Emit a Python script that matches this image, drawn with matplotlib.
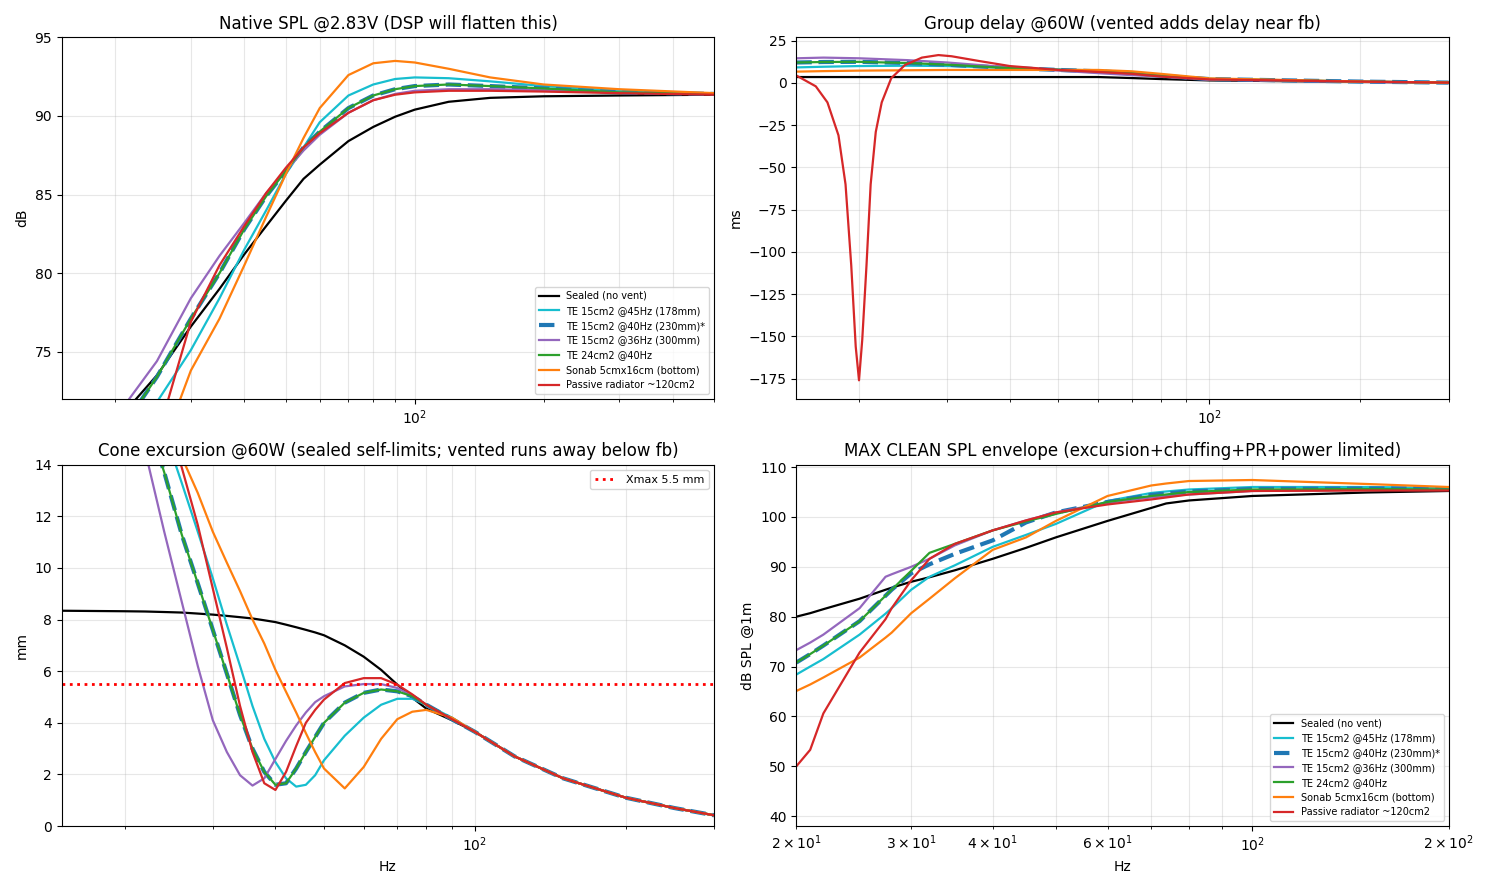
import matplotlib
matplotlib.use('Agg')
import matplotlib.pyplot as plt

# ---------------------------------------------------------------- data
names = ['Sealed (no vent)', 'TE 15cm2 @45Hz (178mm)', 'TE 15cm2 @40Hz (230mm)*',
         'TE 15cm2 @36Hz (300mm)', 'TE 24cm2 @40Hz', 'Sonab 5cmx16cm (bottom)',
         'Passive radiator ~120cm2']
keys = ['sealed', 'te45', 'te40', 'te36', 'te24', 'sonab', 'pr']
colors = {'sealed': 'black', 'te45': 'tab:cyan', 'te40': 'tab:blue', 'te36': 'tab:purple',
          'te24': 'tab:green', 'sonab': 'tab:orange', 'pr': 'tab:red'}

# Native SPL @2.83V
spl_f = [20, 25, 30, 35, 40, 45, 50, 55, 60, 70, 80, 90, 100, 120, 150, 200, 300, 500]
spl = {
    'sealed': [70.5, 73.5, 76.6, 79.0, 81.2, 83.0, 84.6, 86.0, 86.9, 88.4, 89.3, 89.95, 90.4, 90.9, 91.15, 91.25, 91.3, 91.35],
    'te45':   [68.0, 71.8, 75.1, 78.4, 81.5, 84.0, 86.3, 88.0, 89.6, 91.3, 92.0, 92.35, 92.45, 92.4, 92.2, 91.9, 91.6, 91.4],
    'te40':   [69.5, 73.4, 77.1, 80.0, 82.8, 84.9, 86.5, 88.0, 89.0, 90.5, 91.3, 91.7, 91.9, 92.0, 91.9, 91.75, 91.5, 91.4],
    'te36':   [70.8, 74.4, 78.4, 81.1, 83.2, 85.1, 86.5, 87.8, 88.8, 90.2, 91.0, 91.4, 91.6, 91.7, 91.7, 91.65, 91.5, 91.4],
    'te24':   [69.5, 73.4, 77.1, 80.0, 82.8, 84.9, 86.5, 88.0, 89.0, 90.5, 91.3, 91.7, 91.9, 92.0, 91.9, 91.75, 91.5, 91.4],
    'sonab':  [62.0, 68.0, 73.8, 77.1, 80.5, 83.6, 86.3, 88.6, 90.5, 92.6, 93.35, 93.5, 93.4, 93.0, 92.45, 92.0, 91.7, 91.45],
    'pr':     [62.0, 69.5, 76.9, 80.5, 83.0, 85.1, 86.7, 88.0, 88.9, 90.2, 91.0, 91.35, 91.5, 91.6, 91.6, 91.55, 91.45, 91.35],
}

# Group delay @60W
gd_f = [15, 17, 20, 25, 30, 40, 50, 60, 70, 80, 100, 200, 300]
gd = {
    'sealed': [3.5, 3.5, 3.5, 3.5, 3.5, 3.5, 3.5, 3.5, 2.9, 2.3, 1.5, 0.6, 0.4],
    'te45':   [9.2, 9.6, 10.0, 10.2, 10.0, 8.8, 8.1, 7.3, 6.2, 4.8, 2.5, 0.8, 0.2],
    'te40':   [12.1, 12.4, 12.5, 11.8, 10.8, 8.8, 7.7, 6.9, 5.8, 4.2, 2.3, 0.8, 0.2],
    'te36':   [14.6, 15.0, 14.6, 13.5, 12.1, 9.2, 7.3, 5.8, 4.6, 3.8, 1.9, 0.6, 0.0],
    'te24':   [12.1, 12.4, 12.5, 11.8, 10.8, 8.8, 7.7, 6.9, 5.8, 4.2, 2.3, 0.8, 0.2],
    'sonab':  [6.7, 7.0, 7.3, 7.5, 7.7, 7.7, 7.7, 7.7, 6.9, 5.4, 2.7, 0.8, 0.2],
}
gd_pr_f = [15, 16.4, 17.3, 18.2, 18.8, 19.3, 19.7, 20, 20.3, 20.7, 21.1, 21.6, 22.2, 23.2,
           24.7, 26.7, 28.8, 30.6, 34.7, 40, 50, 60, 70, 80, 100, 200, 300]
gd_pr = [4.4, -2, -11.5, -31, -60, -108, -156, -176, -152, -108, -60, -29, -11.5, 2.9,
         10.6, 15, 16.5, 15.8, 13, 10, 7.7, 6.5, 5.4, 3.8, 2.1, 0.8, 0.2]

# Cone excursion @60W
ex_f = [15, 20, 22, 24, 26, 28, 30, 32, 34, 36, 38, 40, 42, 44, 46, 48, 50, 55, 60, 65, 70, 75,
        80, 90, 100, 120, 150, 200, 250, 300]
ex_tail = [3.65, 2.7, 1.85, 1.1, 0.7, 0.42]
ex = {
    'sealed': [8.34, 8.32, 8.31, 8.29, 8.27, 8.23, 8.19, 8.14, 8.09, 8.04, 7.97, 7.9, 7.8, 7.7, 7.6, 7.5,
               7.39, 7.0, 6.56, 6.05, 5.48, 4.97, 4.55, 4.1] + ex_tail,
    'te45':   [34, 22, 18, 15.3, 13.3, 11.4, 9.6, 7.8, 6.2, 4.65, 3.38, 2.48, 1.85, 1.53, 1.6, 1.97,
               2.55, 3.5, 4.2, 4.7, 4.93, 4.93, 4.7, 4.2] + ex_tail,
    'te40':   [32, 20, 16, 13.7, 11.3, 9.4, 7.6, 5.9, 4.3, 3.0, 2.1, 1.6, 1.66, 2.23, 2.87, 3.45,
               4.0, 4.78, 5.16, 5.29, 5.22, 5.03, 4.7, 4.14] + ex_tail,
    'te36':   [27, 17.5, 14.5, 11.4, 8.7, 6.2, 4.1, 2.87, 1.97, 1.57, 1.85, 2.6, 3.3, 3.9, 4.4, 4.8,
               5.03, 5.41, 5.5, 5.5, 5.35, 5.05, 4.7, 4.14] + ex_tail,
    'te24':   [32, 20, 16, 13.7, 11.3, 9.4, 7.6, 5.9, 4.3, 3.0, 2.1, 1.6, 1.66, 2.23, 2.87, 3.45,
               4.0, 4.78, 5.16, 5.29, 5.22, 5.03, 4.7, 4.14] + ex_tail,
    'sonab':  [30, 20, 17.5, 15.6, 14.3, 12.9, 11.4, 10.2, 9.1, 8.0, 7.07, 6.05, 5.2, 4.4, 3.6, 2.87,
               2.23, 1.46, 2.29, 3.38, 4.14, 4.43, 4.5, 4.2] + ex_tail,
    'pr':     [40, 24, 19, 16, 13.9, 11.66, 9.2, 6.9, 4.65, 2.87, 1.66, 1.4, 2.1, 3.1, 4.0, 4.5,
               4.9, 5.54, 5.73, 5.73, 5.48, 5.1, 4.7, 4.14] + ex_tail,
}
xmax_mm = 5.5

# Max clean SPL envelope
mx_f = [20, 21, 22, 25, 27.4, 28, 30, 32, 35, 40, 45, 50, 60, 70, 73.8, 80, 100, 150, 200]
mx = {
    'sealed': [80.0, 80.7, 81.5, 83.6, 85.4, 85.8, 87.0, 87.9, 89.3, 91.6, 93.8, 95.9, 99.2, 101.8, 102.7, 103.3, 104.2, 104.9, 105.2],
    'te45':   [68.4, 70.0, 71.5, 76.4, 80.6, 81.7, 85.4, 88.0, 90.3, 94.0, 96.4, 98.6, 103.2, 104.8, 105.1, 105.5, 106.0, 106.0, 105.8],
    'te40':   [70.8, 72.5, 74.2, 79.1, 84.2, 85.4, 88.7, 90.5, 92.6, 95.3, 98.9, 100.9, 103.0, 104.4, 104.7, 105.1, 105.6, 105.7, 105.7],
    'te36':   [73.3, 74.8, 76.4, 81.7, 88.0, 88.5, 90.0, 91.6, 94.3, 97.3, 99.3, 100.9, 102.9, 103.9, 104.2, 104.5, 105.2, 105.4, 105.4],
    'te24':   [70.8, 72.5, 74.2, 79.1, 84.2, 85.4, 89.2, 92.8, 94.6, 97.3, 99.1, 100.6, 103.0, 104.2, 104.5, 105.0, 105.5, 105.6, 105.5],
    'sonab':  [65.1, 66.4, 67.8, 71.8, 75.8, 76.8, 80.7, 83.6, 87.7, 93.4, 95.9, 99.2, 104.2, 106.3, 106.7, 107.2, 107.4, 106.6, 106.0],
    'pr':     [50.0, 53.3, 60.6, 72.8, 79.5, 81.7, 87.3, 91.6, 94.6, 97.3, 99.3, 100.9, 102.5, 103.5, 103.9, 104.5, 105.2, 105.3, 105.3],
}


def style(k):
    if k == 'te40':
        return dict(color=colors[k], linestyle='--', linewidth=3)
    return dict(color=colors[k], linewidth=1.6)


fig, axes = plt.subplots(2, 2, figsize=(14.89, 8.89), dpi=100)

# Native SPL
ax = axes[0, 0]
for k, n in zip(keys, names):
    ax.semilogx(spl_f, spl[k], label=n, **style(k))
ax.set_xlim(15, 500)
ax.set_ylim(72, 95)
ax.set_ylabel('dB')
ax.set_title('Native SPL @2.83V (DSP will flatten this)')
ax.grid(True, which='both', alpha=0.3)
ax.legend(loc='lower right', fontsize=7)

# Group delay
ax = axes[0, 1]
for k in keys:
    if k == 'pr':
        ax.semilogx(gd_pr_f, gd_pr, **style(k))
    else:
        ax.semilogx(gd_f, gd[k], **style(k))
ax.set_xlim(15, 300)
ax.set_ylim(-187, 27)
ax.set_ylabel('ms')
ax.set_title('Group delay @60W (vented adds delay near fb)')
ax.grid(True, which='both', alpha=0.3)

# Excursion
ax = axes[1, 0]
for k in keys:
    ax.semilogx(ex_f, ex[k], **style(k))
ax.axhline(xmax_mm, color='red', linestyle=':', linewidth=2, label='Xmax 5.5 mm')
ax.set_xlim(15, 300)
ax.set_ylim(0, 14)
ax.set_xlabel('Hz')
ax.set_ylabel('mm')
ax.set_title('Cone excursion @60W (sealed self-limits; vented runs away below fb)')
ax.grid(True, which='both', alpha=0.3)
ax.legend(loc='upper right', fontsize=8)

# Max SPL
ax = axes[1, 1]
for k, n in zip(keys, names):
    ax.semilogx(mx_f, mx[k], label=n, **style(k))
ax.set_xlim(20, 200)
ax.set_ylim(38, 110.5)
ax.set_xlabel('Hz')
ax.set_ylabel('dB SPL @1m')
ax.set_title('MAX CLEAN SPL envelope (excursion+chuffing+PR+power limited)')
ax.grid(True, which='both', alpha=0.3)
ax.legend(loc='lower right', fontsize=7)

plt.tight_layout()
plt.savefig('out.png', dpi=100)
